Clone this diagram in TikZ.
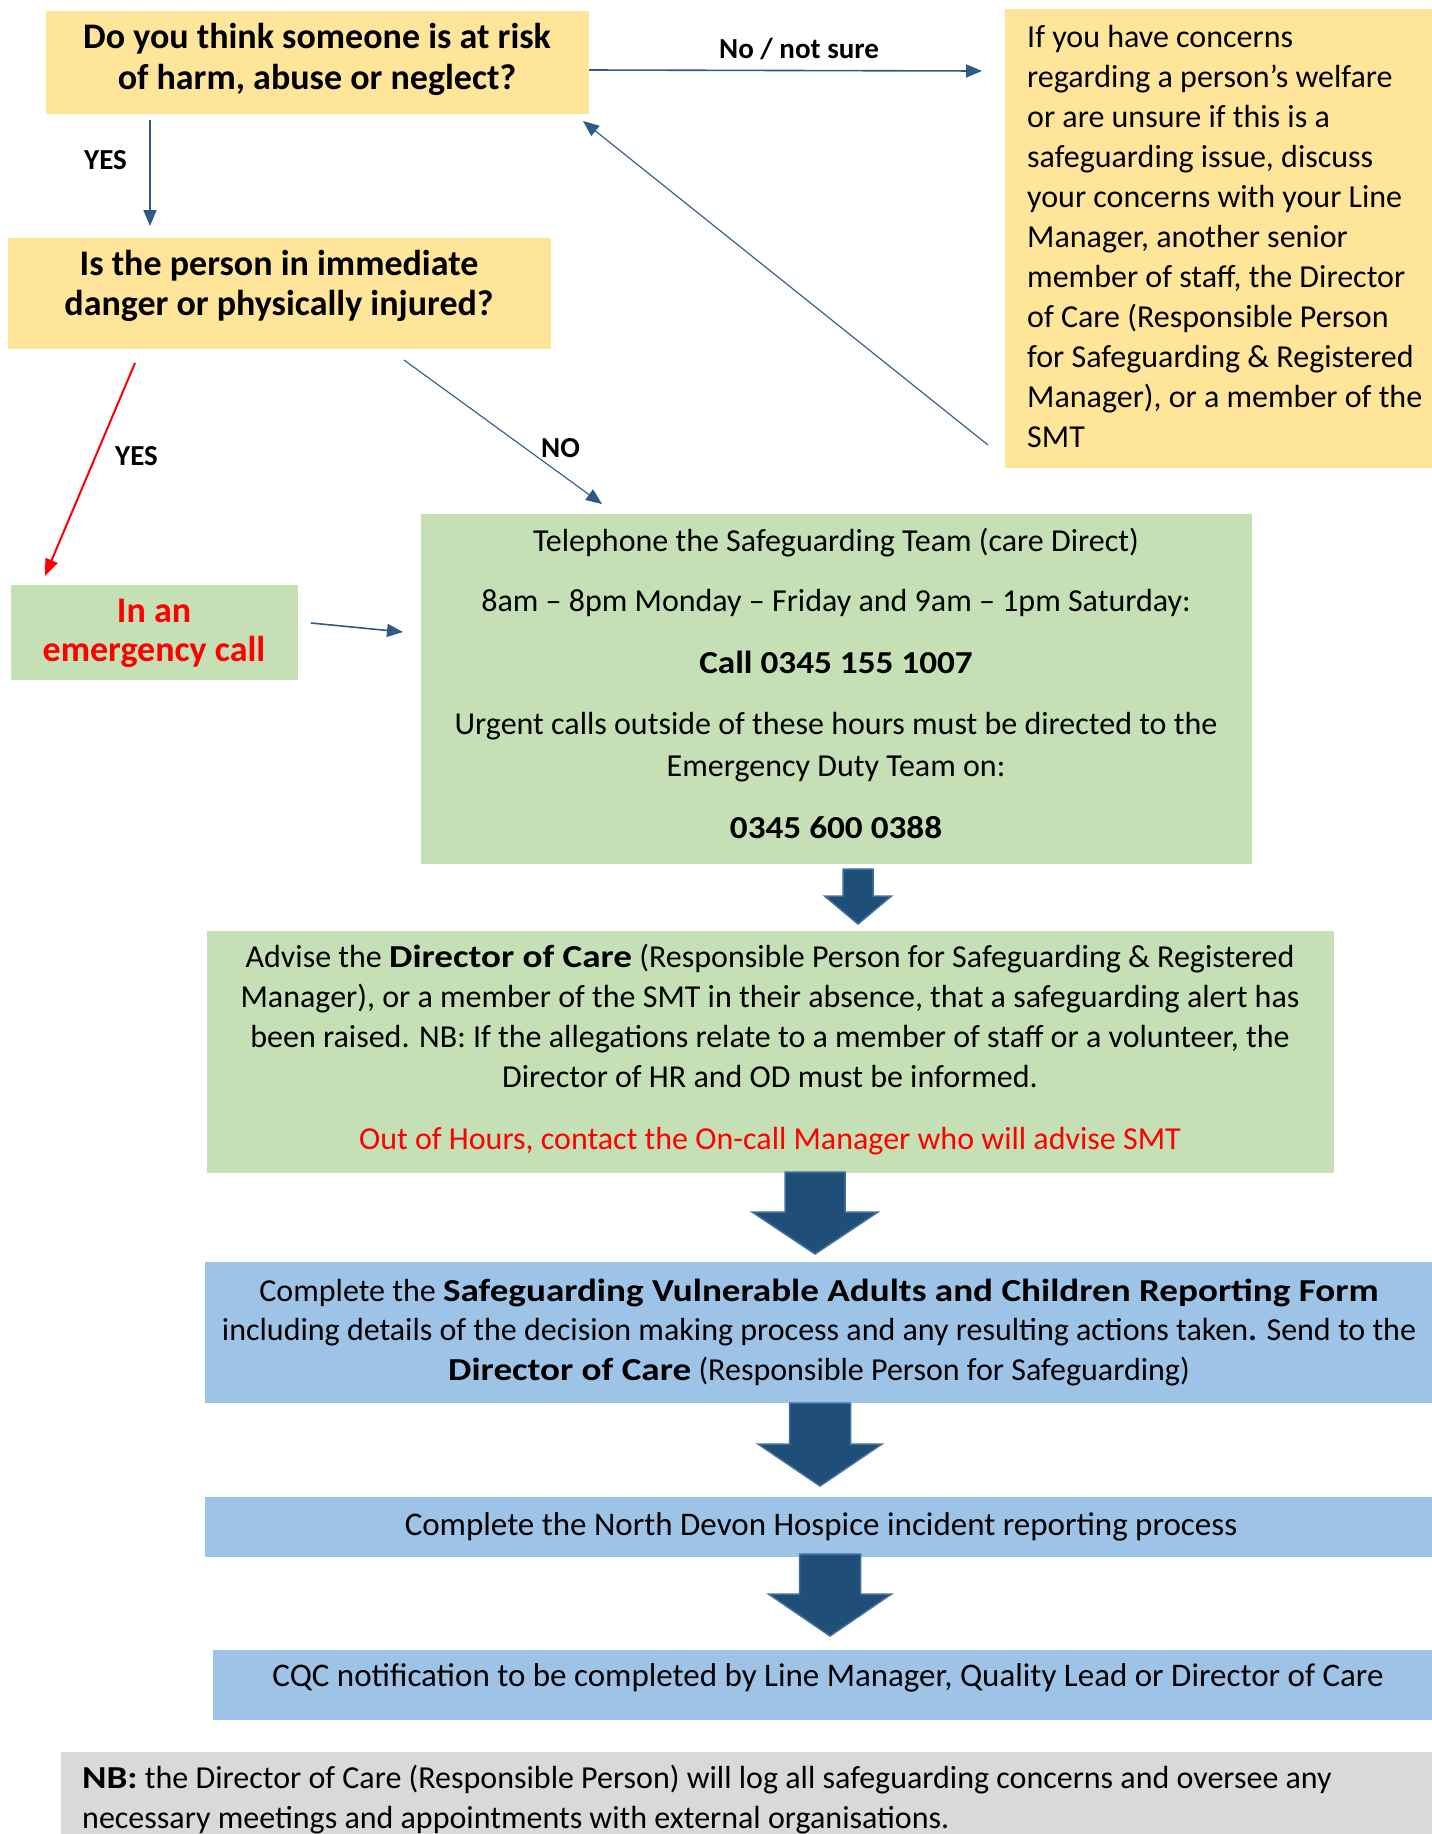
\documentclass[tikz,border=0pt]{standalone}
\usepackage{fontspec}
\setmainfont{Carlito}
\newfontfamily\widefam{Carlito}[FakeStretch=1.16]
\newfontfamily\numfam{Carlito}[FakeStretch=1.1]
\usetikzlibrary{arrows.meta}
\definecolor{yel}{HTML}{FFE599}
\definecolor{grn}{HTML}{C5E0B4}
\definecolor{blu}{HTML}{9DC3E6}
\definecolor{gry}{HTML}{D9D9D9}
\definecolor{navy}{HTML}{1F4E79}
\definecolor{navyedge}{HTML}{41719C}
\definecolor{lnblue}{HTML}{2E5A87}
\definecolor{redc}{HTML}{FF0000}
\newcommand\rows[2]{\begin{tabular}[t]{@{}#1@{}}#2\end{tabular}}
\newcommand\wb[1]{{\widefam\bfseries #1}}
\newcommand\nb[1]{{\numfam\bfseries #1}}
\newcommand\blockarrow[6]{%
  \filldraw[blockarr] (#1-#3,#2) -- (#1+#3,#2) -- (#1+#3,#5) -- (#1+#4,#5) -- (#1,#6) -- (#1-#4,#5) -- (#1-#3,#5) -- cycle;}
\tikzset{
  box/.style={fill=#1, draw=none, anchor=north west, inner sep=0pt, outer sep=0pt},
  body/.style={font=\fontsize{32}{40}\selectfont, inner sep=0pt},
  headtxt/.style={font=\bfseries\fontsize{36}{41}\selectfont, inner sep=0pt},
  lbl/.style={font=\bfseries\fontsize{29}{35}\selectfont, inner sep=0pt},
  conn/.style={draw=lnblue, line width=1.6pt, -{Triangle[length=16pt,width=13pt]}},
  thinconn/.style={draw=lnblue, line width=1.1pt, -{Triangle[length=16pt,width=13pt]}},
  redconn/.style={draw=redc, line width=2pt, -{Triangle[length=17pt,width=13pt]}},
  blockarr/.style={fill=navy, draw=navyedge, line width=1.5pt, line join=miter},
}
\begin{document}
\begin{tikzpicture}[x=1pt,y=-1pt]
\fill[white] (0,0) rectangle (1432,1834);
\useasboundingbox (0,0) rectangle (1432,1834);

% boxes
\node[box=yel, minimum width=543pt, minimum height=103pt] (q1) at (46,11) {};
\node[box=yel, minimum width=543pt, minimum height=111pt] (q2) at (8,238) {};
\node[box=yel, minimum width=427pt, minimum height=459pt] (adv) at (1005,9) {};
\node[box=grn, minimum width=287pt, minimum height=95pt] (emg) at (11,585) {};
\node[box=grn, minimum width=831pt, minimum height=350pt] (tel) at (421,514) {};
\node[box=grn, minimum width=1127pt, minimum height=242pt] (dir) at (207,931) {};
\node[box=blu, minimum width=1227pt, minimum height=141pt] (form) at (205,1262) {};
\node[box=blu, minimum width=1227pt, minimum height=60pt] (ndh) at (205,1497) {};
\node[box=blu, minimum width=1219pt, minimum height=70pt] (cqc) at (213,1650) {};
\node[box=gry, minimum width=1371pt, minimum height=82pt] (nb) at (61,1752) {};

% texts
\node[headtxt, anchor=base] (q1t) at (317,48) {\rows{c}{Do you think someone is at risk\\of harm, abuse or neglect?}};
\node[headtxt, font=\bfseries\fontsize{36}{40}\selectfont, anchor=base] (q2t) at (279,275) {\rows{c}{Is the person in immediate\\danger or physically injured?}};
\node[body, anchor=base west] (advt) at (1027,47) {\rows{l}{If you have concerns\\regarding a person’s welfare\\or are unsure if this is a\\safeguarding issue, discuss\\your concerns with your Line\\Manager, another senior\\member of staff, the Director\\of Care (Responsible Person\\for Safeguarding \& Registered\\Manager), or a member of the\\SMT}};
\node[headtxt, font=\bfseries\fontsize{36}{39}\selectfont, text=redc, anchor=base] (emgt) at (154,622) {\rows{c}{In an\\emergency call}};
\node[body, font=\fontsize{32}{41}\selectfont, anchor=base] (telt) at (836,551) {\rows{c}{Telephone the Safeguarding Team (care Direct)\\[19pt]
8am – 8pm Monday – Friday and 9am – 1pm Saturday:\\[21pt]
\nb{Call 0345 155 1007}\\[20pt]
Urgent calls outside of these hours must be directed to the\\[1pt]
Emergency Duty Team on:\\[21pt]
\nb{0345 600 0388}}};
\node[body, anchor=base] (dirt) at (770,967) {\rows{c}{Advise the \wb{Director of Care} (Responsible Person for Safeguarding \& Registered\\
Manager), or a member of the SMT in their absence, that a safeguarding alert has\\
been raised. NB: If the allegations relate to a member of staff or a volunteer, the\\
Director of HR and OD must be informed.\\[22pt]
\textcolor{redc}{Out of Hours, contact the On-call Manager who will advise SMT}}};
\node[body, font=\fontsize{32}{39.5}\selectfont, anchor=base] (formt) at (819,1301) {\rows{c}{Complete the \wb{Safeguarding Vulnerable Adults and Children Reporting Form}\\
including details of the decision making process and any resulting actions taken\textbf{.} Send to the\\
\wb{Director of Care} (Responsible Person for Safeguarding)}};
\node[body, font=\fontsize{33}{40}\selectfont, anchor=base] (ndht) at (821,1535) {Complete the North Devon Hospice incident reporting process};
\node[body, font=\fontsize{33}{40}\selectfont, anchor=base] (cqct) at (828,1686) {CQC notification to be completed by Line Manager, Quality Lead or Director of Care};
\node[body, anchor=base west] (nbt) at (82,1788) {\rows{l}{\wb{NB:} the Director of Care (Responsible Person) will log all safeguarding concerns and oversee any\\
necessary meetings and appointments with external organisations.}};

% labels
\node[lbl, anchor=base west] (lnotsure) at (719,58) {No / not sure};
\node[lbl, anchor=base west] (lyes1) at (84,169) {YES};
\node[lbl, anchor=base west] (lyes2) at (115,465) {YES};
\node[lbl, anchor=base west] (lno) at (541,457) {NO};

% connector end points
\coordinate (q1r) at (589,70);
\coordinate (advin) at (982,71);
\coordinate (q1b) at (150,120);
\coordinate (q2top) at (150,226);
\coordinate (advout) at (988,445);
\coordinate (q1in) at (583,121);
\coordinate (q2bl) at (135,363);
\coordinate (emgin) at (45,576);
\coordinate (q2br) at (404,360);
\coordinate (telin) at (602,504);
\coordinate (emgr) at (311,623);
\coordinate (telleft) at (403,632);

\draw[conn] (q1r) -- (advin);
\draw[conn] (q1b) -- (q2top);
\draw[thinconn] (advout) -- (q1in);
\draw[redconn] (q2bl) -- (emgin);
\draw[thinconn] (q2br) -- (telin);
\draw[conn] (emgr) -- (telleft);

% block arrows
\blockarrow{858}{869}{15}{33.5}{896}{924}
\blockarrow{815}{1172}{30}{63}{1212}{1254}
\blockarrow{820}{1403}{30.5}{62}{1444}{1486}
\blockarrow{830}{1554}{30.5}{61.5}{1594}{1636}
\end{tikzpicture}
\end{document}
